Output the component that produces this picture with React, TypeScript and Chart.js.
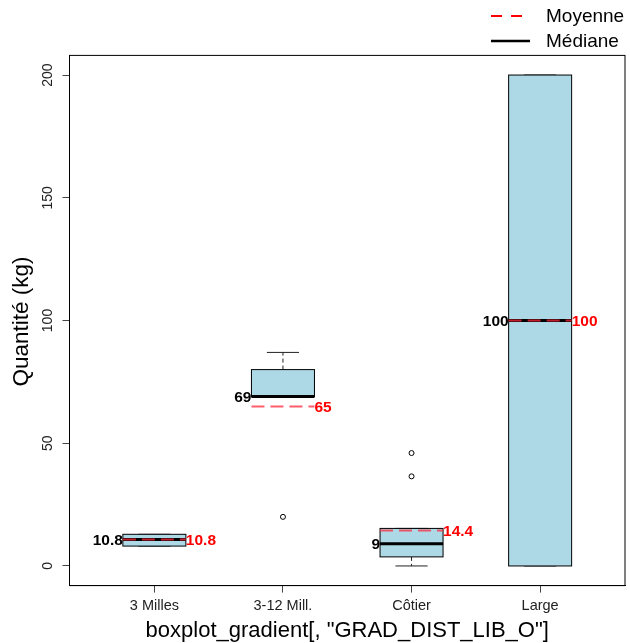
import React, { useEffect, useRef } from 'react';
import { Chart, registerables } from 'chart.js';

Chart.register(...registerables);

// ---- data ----
const categories = ['3 Milles', '3-12 Mill.', 'Côtier', 'Large'];
const lowerWhisker = [8.1, 69, 0, 0];
const q1 = [8.1, 69, 3.7, 0];
const medians = [10.8, 69, 9, 100];
const q3 = [12.9, 80, 15.3, 200];
const upperWhisker = [12.9, 87, 15.3, 200];
const means = [10.8, 65, 14.4, 100];
const medianLabels = ['10.8', '69', '9', '100'];
const meanLabels = ['10.8', '65', '14.4', '100'];
const outlierX = [2, 3, 3];
const outlierY = [20, 36.5, 46];
const yTicks = [0, 50, 100, 150, 200];
const xTicks = [1, 2, 3, 4];

const FONT = '"Liberation Sans", Arial, sans-serif';

export default function App() {
  const ref = useRef<HTMLCanvasElement>(null);

  useEffect(() => {
    document.body.style.margin = '0';
    const canvas = ref.current;
    if (!canvas) return;

    const boxPlugin = {
      id: 'boxes',
      beforeDatasetsDraw(chart: any) {
        const { ctx } = chart;
        const x = chart.scales.x;
        const y = chart.scales.y;
        const hw = 0.245;
        const cw = 0.125;
        ctx.save();
        categories.forEach((_c, i) => {
          const pos = i + 1;
          const xl = x.getPixelForValue(pos - hw);
          const xr = x.getPixelForValue(pos + hw);
          const xc = x.getPixelForValue(pos);
          const cl = x.getPixelForValue(pos - cw);
          const cr = x.getPixelForValue(pos + cw);
          const yq1 = y.getPixelForValue(q1[i]);
          const yq3 = y.getPixelForValue(q3[i]);
          const ylo = y.getPixelForValue(lowerWhisker[i]);
          const yhi = y.getPixelForValue(upperWhisker[i]);
          // whiskers
          ctx.strokeStyle = '#222';
          ctx.lineWidth = 1;
          ctx.setLineDash([4, 3]);
          ctx.beginPath();
          ctx.moveTo(xc, yq3);
          ctx.lineTo(xc, yhi);
          ctx.moveTo(xc, yq1);
          ctx.lineTo(xc, ylo);
          ctx.stroke();
          ctx.setLineDash([]);
          ctx.beginPath();
          ctx.moveTo(cl, yhi);
          ctx.lineTo(cr, yhi);
          ctx.moveTo(cl, ylo);
          ctx.lineTo(cr, ylo);
          ctx.stroke();
          // box
          ctx.fillStyle = '#ADD8E6';
          ctx.fillRect(xl, yq3, xr - xl, yq1 - yq3);
          ctx.strokeStyle = '#000';
          ctx.lineWidth = 1;
          ctx.strokeRect(xl, yq3, xr - xl, yq1 - yq3);
          // median
          const ym = y.getPixelForValue(medians[i]);
          ctx.lineWidth = 3;
          ctx.beginPath();
          ctx.moveTo(xl, ym);
          ctx.lineTo(xr, ym);
          ctx.stroke();
        });
        ctx.restore();
      },
      afterDatasetsDraw(chart: any) {
        const { ctx } = chart;
        const x = chart.scales.x;
        const y = chart.scales.y;
        const hw = 0.245;
        ctx.save();
        categories.forEach((_c, i) => {
          const pos = i + 1;
          const xl = x.getPixelForValue(pos - hw);
          const xr = x.getPixelForValue(pos + hw);
          const ymean = y.getPixelForValue(means[i]);
          const ymed = y.getPixelForValue(medians[i]);
          ctx.strokeStyle = 'rgba(255,40,60,0.75)';
          ctx.lineWidth = 2;
          ctx.setLineDash([13, 6]);
          ctx.beginPath();
          ctx.moveTo(xl, ymean);
          ctx.lineTo(xr, ymean);
          ctx.stroke();
          ctx.setLineDash([]);
          ctx.font = `bold 15.5px ${FONT}`;
          ctx.textBaseline = 'middle';
          ctx.fillStyle = '#000';
          ctx.textAlign = 'right';
          ctx.fillText(medianLabels[i], xl, ymed + 1);
          ctx.fillStyle = '#ff0000';
          ctx.textAlign = 'left';
          ctx.fillText(meanLabels[i], xr, ymean + 1);
        });
        ctx.restore();
      },
      afterDraw(chart: any) {
        const { ctx, chartArea } = chart;
        const x = chart.scales.x;
        const y = chart.scales.y;
        ctx.save();
        // plot box
        ctx.strokeStyle = '#000';
        ctx.lineWidth = 1;
        ctx.strokeRect(chartArea.left, chartArea.top, chartArea.right - chartArea.left, chartArea.bottom - chartArea.top);
        // y tick labels (rotated)
        ctx.fillStyle = '#222';
        ctx.font = `14px ${FONT}`;
        y.ticks.forEach((t: any) => {
          const py = y.getPixelForValue(t.value);
          ctx.save();
          ctx.translate(48, py);
          ctx.rotate(-Math.PI / 2);
          ctx.textAlign = 'center';
          ctx.textBaseline = 'middle';
          ctx.fillText(String(t.value), 0, 0);
          ctx.restore();
        });
        // x tick labels
        ctx.font = `14.5px ${FONT}`;
        ctx.textAlign = 'center';
        ctx.textBaseline = 'middle';
        x.ticks.forEach((t: any) => {
          const px = x.getPixelForValue(t.value);
          ctx.fillText(categories[t.value - 1], px, 606);
        });
        // axis titles
        ctx.fillStyle = '#000';
        ctx.font = `22px ${FONT}`;
        ctx.fillText('boxplot_gradient[, "GRAD_DIST_LIB_O"]', (chartArea.left + chartArea.right) / 2, 631);
        ctx.save();
        ctx.font = `22.5px ${FONT}`;
        ctx.translate(22, (chartArea.top + chartArea.bottom) / 2 + 1);
        ctx.rotate(-Math.PI / 2);
        ctx.fillText('Quantité (kg)', 0, 0);
        ctx.restore();
        // legend
        ctx.font = `19px ${FONT}`;
        ctx.textAlign = 'left';
        ctx.strokeStyle = '#ff0000';
        ctx.lineWidth = 2;
        ctx.setLineDash([11, 9]);
        ctx.beginPath();
        ctx.moveTo(491, 16);
        ctx.lineTo(524, 16);
        ctx.stroke();
        ctx.setLineDash([]);
        ctx.strokeStyle = '#000';
        ctx.lineWidth = 2.5;
        ctx.beginPath();
        ctx.moveTo(491, 41);
        ctx.lineTo(530, 41);
        ctx.stroke();
        ctx.fillStyle = '#000';
        ctx.fillText('Moyenne', 546, 17);
        ctx.fillText('Médiane', 546, 42);
        ctx.restore();
      },
    };

    const chart = new Chart(canvas, {
      type: 'scatter',
      data: {
        datasets: [
          {
            label: 'outliers',
            data: outlierX.map((v, i) => ({ x: v, y: outlierY[i] })),
            pointStyle: 'circle',
            pointRadius: 2.5,
            borderColor: '#000',
            borderWidth: 1,
            backgroundColor: 'rgba(0,0,0,0)',
          },
        ],
      },
      options: {
        animation: false,
        responsive: false,
        maintainAspectRatio: false,
        layout: { padding: { top: 55.4, right: 2.8, left: 0, bottom: 0 } },
        plugins: { legend: { display: false }, tooltip: { enabled: false } },
        scales: {
          x: {
            type: 'linear',
            min: 0.34,
            max: 4.66,
            afterBuildTicks: (s: any) => {
              s.ticks = xTicks.map((v) => ({ value: v }));
            },
            afterFit: (s: any) => {
              s.height = 57.4;
            },
            ticks: { display: false },
            grid: { drawOnChartArea: false, drawTicks: true, tickLength: 7, color: '#000', tickColor: '#444' },
            border: { display: true, color: '#000' },
          },
          y: {
            type: 'linear',
            min: -8,
            max: 208,
            afterBuildTicks: (s: any) => {
              s.ticks = yTicks.map((v) => ({ value: v }));
            },
            afterFit: (s: any) => {
              s.width = 69.5;
            },
            ticks: { display: false },
            grid: { drawOnChartArea: false, drawTicks: true, tickLength: 7, color: '#000', tickColor: '#444' },
            border: { display: true, color: '#000' },
          },
        },
      },
      plugins: [boxPlugin],
    });
    return () => chart.destroy();
  }, []);

  return (
    <div style={{ position: 'absolute', left: 0, top: 0, width: 630, height: 643, background: '#fff' }}>
      <canvas ref={ref} width={630} height={643} style={{ width: 630, height: 643 }} />
    </div>
  );
}
